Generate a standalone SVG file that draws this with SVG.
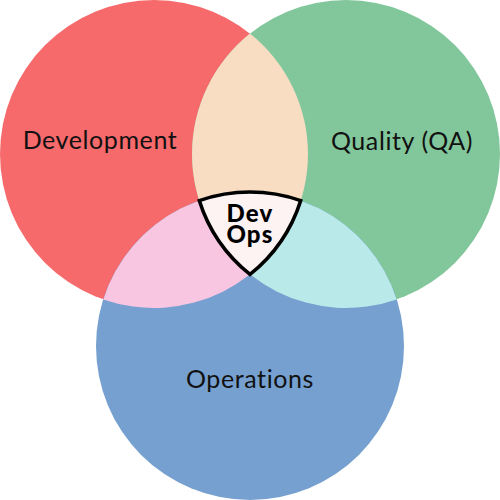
<svg xmlns="http://www.w3.org/2000/svg" width="500" height="500" viewBox="0 0 500 500">
<style>
.lbl{font-family:"Lato","Liberation Sans",sans-serif;font-size:25px;letter-spacing:0.6px;fill:#111;text-anchor:middle}
.core{font-family:"Lato","Liberation Sans",sans-serif;font-size:24px;font-weight:900;letter-spacing:1.2px;fill:#000;text-anchor:middle}
</style>
<rect width="500" height="500" fill="#ffffff"/>
<g id="development"><circle cx="154" cy="154" r="154" fill="#F66A6C"/></g>
<g id="quality"><circle cx="346" cy="154" r="154" fill="#82C79B"/></g>
<g id="operations"><circle cx="250" cy="346" r="154" fill="#75A0CF"/></g>
<g id="dev-qa"><path d="M250,33.6 A154,154 0 0 1 250,274.4 A154,154 0 0 1 250,33.6 Z" fill="#F8DDC3"/></g>
<g id="dev-ops"><path d="M300.7,200.6 A154,154 0 0 1 103.3,299.4 A154,154 0 0 1 300.7,200.6 Z" fill="#F9C6E2"/></g>
<g id="qa-ops"><path d="M199.3,200.6 A154,154 0 0 0 396.7,299.4 A154,154 0 0 0 199.3,200.6 Z" fill="#B9E9E9"/></g>
<g id="devops"><path d="M199.3,200.6 A154,154 0 0 1 300.7,200.6 A154,154 0 0 1 250,274.4 A154,154 0 0 1 199.3,200.6 Z" fill="#FDF3F3" stroke="#000" stroke-width="3.5" stroke-linejoin="miter"/>
<text class="core" x="250" y="222">Dev</text>
<text class="core" x="250" y="243">Ops</text></g>
<g id="labels">
<text class="lbl" x="100" y="149">Development</text>
<text class="lbl" x="402" y="150">Quality (QA)</text>
<text class="lbl" x="250" y="388">Operations</text>
</g>
<g id="connectors"></g>
</svg>
